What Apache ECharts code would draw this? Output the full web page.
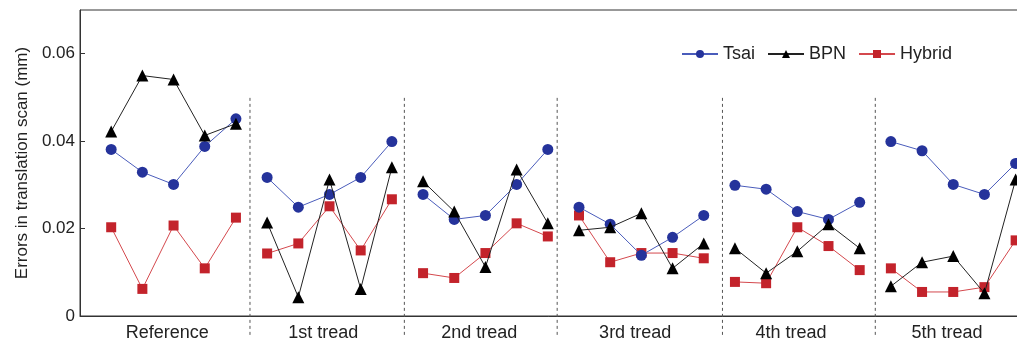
<!DOCTYPE html>
<html lang="en" style="height: 100%">

<head>
   <meta charset="utf-8">
   <style>
      html,
      body {
         margin: 0;
         padding: 0;
         width: 100%;
         height: 100%;
         overflow: hidden;
         background: #fff;
      }
   </style>
</head>

<body>
   <div id="container" style="height: 100%;width: 100%;"></div>

   <script type="text/javascript" src="https://cdn.jsdelivr.net/npm/echarts@6/dist/echarts.min.js"></script>
   <script type="text/javascript">

      var dom = document.getElementById('container');
      var myChart = echarts.init(dom, null, { renderer: 'canvas' });

      // group names on the x axis
      let groupNames = ["Reference", "1st tread", "2nd tread", "3rd tread", "4th tread", "5th tread"]
      // label position of each group (x units, 5 points per group)
      let groupLabelX = [1.8, 6.8, 11.8, 16.8, 21.8, 26.8]
      // dashed separators between groups
      let sepX = [4.45, 9.4, 14.3, 19.6, 24.5]
      let sepTop = 0.0499
      let sepBottom = -0.0046

      // values per group, 5 points each
      let tsaiData = [
         [0.0381, 0.0329, 0.0301, 0.0388, 0.0451],
         [0.0317, 0.0249, 0.0278, 0.0317, 0.0399],
         [0.0278, 0.0221, 0.0230, 0.0301, 0.0381],
         [0.0249, 0.0210, 0.0139, 0.0180, 0.0230],
         [0.0299, 0.0290, 0.0239, 0.0221, 0.0260],
         [0.0399, 0.0378, 0.0301, 0.0278, 0.0349],
      ]
      let bpnData = [
         [0.0422, 0.0550, 0.0541, 0.0413, 0.0440],
         [0.0214, 0.0043, 0.0312, 0.0062, 0.0340],
         [0.0308, 0.0239, 0.0112, 0.0335, 0.0212],
         [0.0196, 0.0203, 0.0235, 0.0109, 0.0166],
         [0.0155, 0.0098, 0.0148, 0.0210, 0.0155],
         [0.0068, 0.0123, 0.0137, 0.0052, 0.0312],
      ]
      let hybridData = [
         [0.0203, 0.0062, 0.0207, 0.0109, 0.0225],
         [0.0143, 0.0166, 0.0251, 0.0150, 0.0267],
         [0.0098, 0.0087, 0.0144, 0.0212, 0.0182],
         [0.0230, 0.0123, 0.0144, 0.0144, 0.0132],
         [0.0078, 0.0075, 0.0203, 0.0160, 0.0105],
         [0.0109, 0.0055, 0.0055, 0.0066, 0.0173],
      ]

      // flatten groups into [x, y] points, with a break after each group
      function toPoints(groups) {
         let pts = []
         groups.forEach((g, gi) => {
            g.forEach((v, i) => pts.push([gi * 5 + i, v]))
            pts.push([gi * 5 + 4.5, null])
         })
         return pts
      }

      let font = "Liberation Sans, Arial, sans-serif"

      let option = {
         animation: false,
         grid: {
            left: 80,
            top: 10,
            width: 998,
            height: 306,
            show: true,
            borderColor: "#333",
            borderWidth: 1,
            outerBoundsMode: "none",
         },
         legend: {
            left: 681,
            top: 45,
            padding: 0,
            itemWidth: 36,
            itemHeight: 10,
            itemGap: 12,
            textStyle: {
               fontFamily: font,
               fontSize: 18,
               color: "#222",
            },
            data: ["Tsai", "BPN", "Hybrid"],
         },
         xAxis: {
            type: "value",
            min: -1,
            max: 31,
            axisLine: { lineStyle: { color: "#333" } },
            axisTick: { show: false },
            splitLine: { show: false },
            axisLabel: {
               customValues: groupLabelX,
               margin: 8,
               fontFamily: font,
               fontSize: 18,
               color: "#222",
               formatter: function (value) {
                  return groupNames[Math.round((value - 1.8) / 5)]
               },
            },
         },
         yAxis: {
            type: "value",
            min: 0,
            max: 0.07,
            interval: 0.02,
            name: "Errors in translation scan (mm)",
            nameLocation: "middle",
            nameGap: 48,
            nameTextStyle: {
               fontFamily: font,
               fontSize: 17,
               color: "#222",
            },
            axisLine: { show: true, onZero: false, lineStyle: { color: "#333" } },
            axisTick: { inside: true, length: 5, lineStyle: { color: "#333" } },
            splitLine: { show: false },
            axisLabel: {
               showMaxLabel: false,
               margin: 5,
               fontFamily: font,
               fontSize: 17,
               color: "#222",
            },
         },
         series: [
            {
               name: "Tsai",
               type: "line",
               symbol: "circle",
               symbolSize: 11,
               connectNulls: false,
               color: "#25339b",
               lineStyle: { color: "#4a5cbb", width: 1 },
               data: toPoints(tsaiData),
               z: 3,
            },
            {
               name: "BPN",
               type: "line",
               symbol: "triangle",
               symbolSize: 12,
               connectNulls: false,
               color: "#000",
               lineStyle: { color: "#222", width: 1 },
               data: toPoints(bpnData),
               z: 4,
            },
            {
               name: "Hybrid",
               type: "line",
               symbol: "rect",
               symbolSize: 10,
               connectNulls: false,
               color: "#c3232b",
               lineStyle: { color: "#d4484d", width: 1 },
               data: toPoints(hybridData),
               z: 2,
            },
            {
               name: "sep",
               type: "custom",
               clip: false,
               silent: true,
               encode: { x: 0, y: 1 },
               data: sepX.map(x => [x, 0]),
               renderItem: function (params, api) {
                  let p1 = api.coord([api.value(0), sepTop])
                  let p2 = api.coord([api.value(0), sepBottom])
                  return {
                     type: "line",
                     shape: { x1: p1[0], y1: p1[1], x2: p2[0], y2: p2[1] },
                     style: { stroke: "#555", lineWidth: 1, lineDash: [3, 3] },
                  }
               },
            },
         ],
      };

      myChart.setOption(option);
      window.addEventListener('resize', myChart.resize);

   </script>
</body>

</html>
